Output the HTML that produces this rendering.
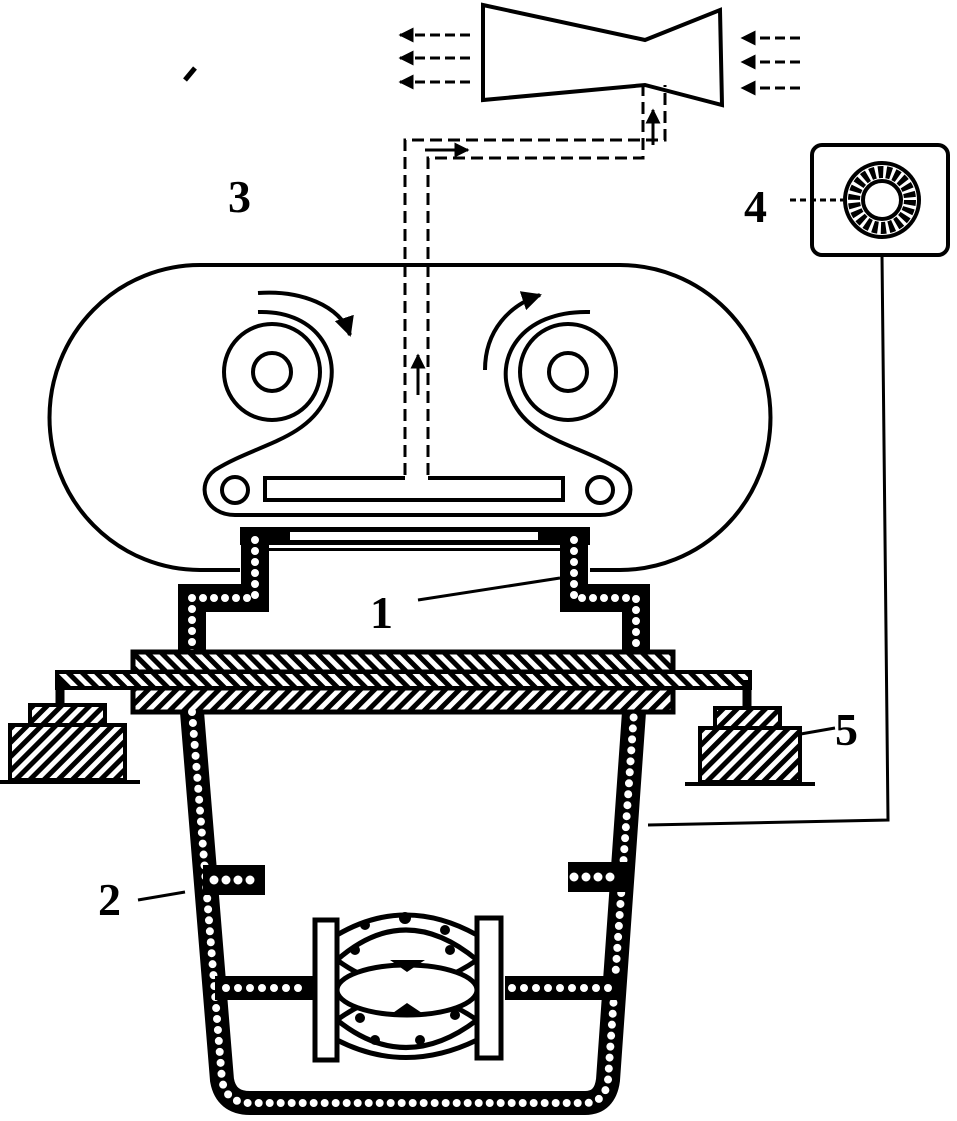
<!DOCTYPE html>
<html><head><meta charset="utf-8"><style>html,body{margin:0;padding:0;background:#fff}svg{display:block}</style></head><body>
<svg width="957" height="1121" viewBox="0 0 957 1121" xmlns="http://www.w3.org/2000/svg">
<defs>
<pattern id="h" width="10" height="10" patternUnits="userSpaceOnUse" patternTransform="rotate(45)"><rect width="10" height="10" fill="#fff"/><rect width="5" height="10" fill="#000"/></pattern>
<pattern id="h2" width="10" height="10" patternUnits="userSpaceOnUse" patternTransform="rotate(-45)"><rect width="10" height="10" fill="#fff"/><rect width="5" height="10" fill="#000"/></pattern>
<marker id="a" viewBox="0 0 10 10" refX="9" refY="5" markerWidth="5" markerHeight="5" orient="auto"><path d="M0,0L10,5L0,10z" fill="#000"/></marker>
</defs>
<g fill="none" stroke="#000" stroke-width="4">
<path d="M483,5 L645,40 L720,10 L722,105 L645,85 L483,100 Z"/>
<g stroke-width="3">
<path d="M470,35 H400" stroke-dasharray="10 5" marker-end="url(#a)"/>
<path d="M470,58 H400" stroke-dasharray="10 5" marker-end="url(#a)"/>
<path d="M470,82 H400" stroke-dasharray="10 5" marker-end="url(#a)"/>
<path d="M800,38 H742" stroke-dasharray="10 5" marker-end="url(#a)"/>
<path d="M800,62 H742" stroke-dasharray="10 5" marker-end="url(#a)"/>
<path d="M800,88 H742" stroke-dasharray="10 5" marker-end="url(#a)"/>
</g>
<g stroke-width="3" stroke-dasharray="12 6">
<path d="M405,475 V140 H665 V85"/>
<path d="M428,475 V158 H643 V85"/>
</g>
<path d="M418,395 V355" stroke-width="3" marker-end="url(#a)"/>
<path d="M425,150 H468" stroke-width="3" marker-end="url(#a)"/>
<path d="M653,145 V110" stroke-width="3" marker-end="url(#a)"/>
<rect x="812" y="145" width="136" height="110" rx="10"/>
<circle cx="882" cy="200" r="37"/>
<circle cx="882" cy="200" r="19"/>
<circle cx="882" cy="200" r="28" stroke-width="12" stroke-dasharray="5 3"/>
<path d="M790,200 H843" stroke-width="3" stroke-dasharray="6 4"/>
<path d="M882,255 L888,820 L648,825" stroke-width="3"/>
<!-- stadium -->
<path d="M200,265 H620 A150,152 0 0 1 620,570 H200 A150,152 0 0 1 200,265 Z"/>
<rect x="240" y="540" width="350" height="40" fill="#fff" stroke="none"/>
<circle cx="272" cy="372" r="48"/><circle cx="272" cy="372" r="19"/>
<circle cx="568" cy="372" r="48"/><circle cx="568" cy="372" r="19"/>
<path d="M258,312 C320,310 345,360 325,400 C305,440 255,445 215,470 C195,485 205,515 235,515 H600 C630,515 640,485 620,470 C580,445 530,440 512,400 C492,360 520,310 590,312"/>
<path d="M258,293 C300,290 340,305 350,335" marker-end="url(#a)"/>
<path d="M485,370 C485,330 510,305 540,295" marker-end="url(#a)"/>
<circle cx="235" cy="490" r="13"/><circle cx="600" cy="490" r="13"/>
<path d="M405,478 H265 V500 H563 V478 H428"/>
<!-- housing top -->
<path d="M255,540 V598 H192 V655 M574,540 V598 H636 V655" stroke-width="28"/>
<path d="M240,536 H590" stroke-width="18"/>
<path d="M255,540 V598 H192 V655 M574,540 V598 H636 V655" stroke="#fff" stroke-width="8" stroke-dasharray="0 11" stroke-linecap="round"/>
<rect x="290" y="532" width="248" height="8" fill="#fff" stroke="none"/>
<rect x="268" y="548" width="292" height="3" fill="#000" stroke="none"/>
<!-- plate -->
<rect x="133" y="652" width="540" height="20" fill="url(#h2)" stroke-width="5"/>
<rect x="133" y="688" width="540" height="24" fill="url(#h)" stroke-width="5"/>
<rect x="57" y="672" width="693" height="16" fill="url(#h2)" stroke-width="4"/>
<path d="M60,680 V705 M747,680 V708" stroke-width="9"/>
<rect x="30" y="705" width="75" height="20" fill="url(#h)"/>
<rect x="10" y="725" width="115" height="55" fill="url(#h)"/>
<path d="M0,782 H140"/>
<rect x="715" y="708" width="65" height="20" fill="url(#h)"/>
<rect x="700" y="728" width="100" height="54" fill="url(#h)"/>
<path d="M685,784 H815"/>
<!-- body -->
<path d="M192,712 L222,1080 Q226,1103 250,1103 H585 Q605,1103 608,1080 L634,712" stroke-width="24"/>
<path d="M192,712 L222,1080 Q226,1103 250,1103 H585 Q605,1103 608,1080 L634,712" stroke="#fff" stroke-width="8" stroke-dasharray="0 11" stroke-linecap="round"/>
<path d="M270,1095 H545" stroke-width="3"/>
<path d="M203,880 H265 M568,877 H630" stroke-width="30"/>
<path d="M214,880 H262 M574,877 H622" stroke="#fff" stroke-width="9" stroke-dasharray="0 12" stroke-linecap="round"/>
<path d="M215,988 H313 M505,988 H620" stroke-width="24"/>
<path d="M226,988 H310 M512,988 H612" stroke="#fff" stroke-width="8" stroke-dasharray="0 12" stroke-linecap="round"/>
<!-- lens -->
<rect x="315" y="920" width="22" height="140" stroke-width="5"/>
<rect x="477" y="918" width="24" height="140" stroke-width="5"/>
<path d="M337,935 Q405,895 477,935 V1040 Q405,1075 337,1040 Z" stroke-width="5"/>
<path d="M337,960 Q405,1010 477,960 M337,960 Q405,900 477,960 M337,1020 Q405,970 477,1020 M337,1020 Q405,1075 477,1020" stroke-width="5"/>
<ellipse cx="407" cy="990" rx="70" ry="25" fill="#fff" stroke-width="5"/>
<g fill="#000" stroke="none"><circle cx="365" cy="925" r="5"/><circle cx="405" cy="918" r="6"/><circle cx="445" cy="930" r="5"/><circle cx="355" cy="950" r="5"/><circle cx="450" cy="950" r="5"/><circle cx="360" cy="1018" r="5"/><circle cx="455" cy="1015" r="5"/><circle cx="375" cy="1040" r="5"/><circle cx="420" cy="1040" r="5"/><path d="M390,960 L425,960 L407,972Z"/><path d="M390,1015 L425,1015 L407,1003Z"/></g>
<path d="M418,600 L560,578" stroke-width="3"/>
<path d="M138,900 L185,892" stroke-width="3"/>
<path d="M795,735 L835,728" stroke-width="3"/>
<path d="M185,80 L195,68" stroke-width="5"/>
</g>
<g font-family="Liberation Serif, serif" font-weight="bold" font-size="46" fill="#000">
<text x="228" y="212">3</text>
<text x="744" y="222">4</text>
<text x="370" y="628">1</text>
<text x="835" y="745">5</text>
<text x="98" y="915">2</text>
</g>
</svg>
</body></html>
